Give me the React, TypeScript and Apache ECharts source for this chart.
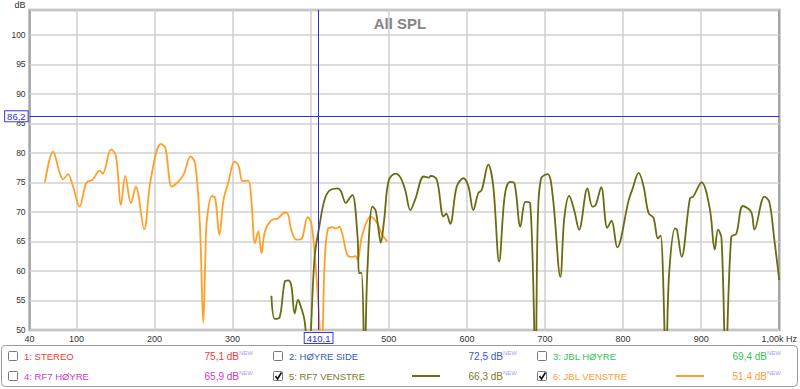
import React, { useEffect, useRef } from 'react';
import * as echarts from 'echarts';

// ---------- data ----------
const X_TICKS = [40, 100, 200, 300, 400, 500, 600, 700, 800, 900, 1000];
const X_GRID = [100, 200, 300, 400, 500, 600, 700, 800, 900];
const Y_MIN = 50;
const Y_MAX = 104.2;
const Y_STEP = 5;

const CURSOR_FREQ = 410.1;
const CURSOR_DB = 86.2;

// 6: JBL VENSTRE (orange)
const JBL_V_FREQ = [
  59.6, 70, 78.6, 83, 89, 95.6, 104, 112.6, 121, 129.5, 133.7, 144.3, 150.7, 157, 162.5, 169.8, 176,
  186.7, 195, 208, 214, 222, 229, 237.5, 246, 252, 258, 262.5, 265, 267, 273.5, 277.8, 283, 288.3,
  294.7, 302.3, 307.4, 313, 320, 324, 328.6, 332.8, 337, 341.3, 349.7, 358, 366.7, 371, 375, 381.5,
  388, 396, 400.6, 405, 410, 414, 417.6, 421.8, 428, 432, 436.6, 440.8, 447, 453.5, 457.8, 460, 466,
  476.8, 485, 491.7, 498,
];
const JBL_V_DB = [
  75.0, 80.2, 76.6, 75.5, 76.4, 74.3, 70.9, 74.9, 75.5, 77.0, 76.5, 80.6, 79.4, 71.2, 76.1, 71.5, 74.3,
  67.1, 75.4, 81.5, 80.8, 74.3, 74.9, 76.4, 79.4, 78.2, 68, 51.2, 62, 68.6, 72.7, 72.3, 66.1, 72.0,
  75.1, 78.5, 77.9, 75.2, 75.3, 72, 64.7, 66.7, 63.0, 66.7, 68.6, 68.9, 69.9, 69.6, 67.0, 65.3,
  65.4, 69.1, 68.2, 63.0, 54, 45, 60.7, 67, 67.4, 67.2, 67.5, 66.1, 62.7, 62.4, 62.5, 61.9, 66.1,
  69.2, 68.1, 66.1, 65.0,
];

// 5: RF7 VENSTRE (olive)
const RF7_V_FREQ = [
  349.7, 354, 360, 366.7, 371, 375, 379.5, 383.7, 386, 392, 397, 405, 411, 417.6, 424, 434.5, 438.7,
  445, 449.5, 453.5, 460, 462, 465, 469, 472.6, 479, 483, 487.5, 489.7, 494, 500, 508.9, 515, 521,
  527.6, 534, 544.7, 551, 554, 561.6, 570, 573.5, 578.6, 587, 595.6, 602, 608.2, 614.6, 619, 627.4,
  633.8, 641.3, 648.5, 655, 661, 668.5, 674.9, 681, 687.8, 690.8, 695, 703.5, 710, 719.7, 724.7, 731,
  737.4, 743.7, 754.4, 760.7, 765, 772, 779.8, 785.3, 792.5, 807.2, 811.6, 820, 826.3, 832.6, 839,
  844.6, 848, 855, 859, 866.6, 869, 875, 885.6, 889.8, 900.5, 911, 917.4, 921.6, 926, 931.5, 938.6,
  945, 953.4, 964, 968.3, 981, 987.3, 993.7, 1000,
];
const RF7_V_DB = [
  55.8, 51.9, 52.1, 58.2, 58.4, 57.6, 52.8, 55.1, 54.5, 51.7, 45, 62.4, 67.5, 72.0, 73.6, 74.0, 73.5,
  71.5, 72.3, 72.9, 65.8, 59.6, 59.7, 45, 60.2, 70.9, 70.3, 66.4, 64.8, 68.6, 75.4, 76.5, 75.8, 73.7,
  70.3, 72.2, 76.0, 75.8, 76.1, 75.4, 69.2, 69.7, 68.0, 74.3, 75.7, 74.3, 70.3, 73.2, 73.7, 78.0,
  74.3, 61.6, 72.8, 75.1, 74.8, 67.5, 71.7, 71.5, 45, 68.6, 75.7, 76.4, 72.6, 59.0, 68.9, 72.7,
  70.3, 67.0, 74.0, 70.9, 71.2, 74.2, 67.3, 68.5, 64.0, 72.0, 73.7, 76.6, 74.3, 69.8, 69.0,
  65.5, 66, 45, 59.6, 67.2, 67, 62.4, 72.3, 72.6, 75.0, 70.6, 63.6, 67.0, 65.6, 45, 65.8,
  66.3, 71.0, 70.0, 67.0, 72.6, 71.7, 65.3, 58.5,
];

const LEGEND_LABELS = ['1: STEREO', '2: HØYRE SIDE', '3: JBL HØYRE', '4: RF7 HØYRE', '5: RF7 VENSTRE', '6: JBL VENSTRE'];
const LEGEND_VALUES = ['75,1 dB', '72,5 dB', '69,4 dB', '65,9 dB', '66,3 dB', '51,4 dB'];
const LEGEND_COLORS = ['#f03a3a', '#3458c8', '#35c45a', '#c83ac8', '#7a7a2e', '#ffa030'];
const LEGEND_CHECKED = [false, false, false, false, true, true];

const OLIVE = '#6b6b12';
const ORANGE = '#ffa028';
const FONT = 'Liberation Sans, Arial, sans-serif';

function pairs(xs: number[], ys: number[]) {
  return xs.map((x, i) => [x, ys[i]]);
}

function buildLegend(): any[] {
  const els: any[] = [];
  els.push({
    type: 'rect',
    shape: { x: 1.5, y: 345.5, width: 796, height: 41, r: 4 },
    style: { fill: '#fff', stroke: '#9a9a9a', lineWidth: 1 },
    silent: true,
  });
  const colX = [8, 273, 537];
  const valRight = [253, 517, 781];
  const rowY = [356, 376];
  const lineColors = [null, null, null, null, OLIVE, ORANGE];
  LEGEND_LABELS.forEach((label, i) => {
    const col = i % 3;
    const row = Math.floor(i / 3);
    const cx = colX[col];
    const cy = rowY[row];
    els.push({
      type: 'rect',
      shape: { x: cx + 0.5, y: cy - 4.5, width: 9, height: 9, r: 1 },
      style: { fill: '#fff', stroke: '#7a7a7a', lineWidth: 1 },
      silent: true,
    });
    if (LEGEND_CHECKED[i]) {
      els.push({
        type: 'polyline',
        shape: { points: [[cx + 2.5, cy], [cx + 4.5, cy + 3], [cx + 8.5, cy - 3.5]] },
        style: { stroke: '#111', lineWidth: 1.6, fill: 'none' },
        silent: true,
      });
    }
    els.push({
      type: 'text',
      x: cx + 16,
      y: cy,
      style: {
        text: label,
        fill: LEGEND_COLORS[i],
        font: `9.5px ${FONT}`,
        verticalAlign: 'middle',
        align: 'left',
      },
      silent: true,
    });
    const lc = lineColors[i];
    if (lc) {
      els.push({
        type: 'line',
        shape: { x1: valRight[col] - 105, y1: cy, x2: valRight[col] - 77, y2: cy },
        style: { stroke: lc, lineWidth: 2 },
        silent: true,
      });
    }
    els.push({
      type: 'text',
      x: valRight[col],
      y: cy,
      style: {
        text: `{v|${LEGEND_VALUES[i]}}{n|NEW}`,
        align: 'right',
        verticalAlign: 'middle',
        rich: {
          v: { fill: LEGEND_COLORS[i], fontSize: 10, fontFamily: FONT, lineHeight: 12 },
          n: { fill: '#9f9ff5', fontSize: 6, fontFamily: FONT, verticalAlign: 'top', lineHeight: 12, padding: [0, 0, 4, 0] },
        },
      },
      silent: true,
    });
  });
  return els;
}

export default function App() {
  const ref = useRef<HTMLDivElement>(null);
  useEffect(() => {
    if (!ref.current) return;
    const chart = echarts.init(ref.current, undefined, { renderer: 'svg' });
    const cursorLabel = {
      show: true,
      position: 'start',
      color: '#2a2ad0',
      fontSize: 9.5,
      fontFamily: FONT,
      backgroundColor: '#fff',
      borderColor: '#3a3ae0',
      borderWidth: 1,
      padding: [0, 2, 0, 2],
    };
    chart.setOption({
      animation: false,
      textStyle: { fontFamily: FONT },
      title: {
        text: 'All SPL',
        left: 'center',
        top: 11,
        textStyle: { fontSize: 15, fontWeight: 'bold', color: '#858585', fontFamily: FONT },
      },
      grid: {
        left: 29.6,
        right: 14,
        top: 10,
        bottom: 59,
        show: true,
        borderColor: '#a4a4a4',
        borderWidth: 2.5,
        backgroundColor: '#fff',
      },
      xAxis: {
        type: 'value',
        min: 40,
        max: 1000,
        axisLine: { show: false },
        axisTick: { show: false },
        splitLine: { show: false },
        axisLabel: {
          customValues: X_TICKS,
          hideOverlap: false,
          color: '#333',
          fontSize: 9,
          margin: 4,
          formatter: (v: number) => (v === 1000 ? '1,00k Hz' : v === 400 ? '' : String(v)),
        },
      },
      yAxis: {
        type: 'value',
        min: Y_MIN,
        max: Y_MAX,
        interval: Y_STEP,
        name: 'dB',
        nameLocation: 'end',
        nameGap: 1,
        nameTextStyle: { align: 'right', fontSize: 9, color: '#333', padding: [0, 4, 0, 0] },
        axisLine: { show: false },
        axisTick: { show: false },
        splitLine: { show: true, lineStyle: { color: '#d0d0d0', width: 1.5 } },
        axisLabel: {
          color: '#333',
          fontSize: 8.5,
          margin: 4,
          showMaxLabel: false,
          formatter: (v: number) => (Math.abs(v % 5) < 1e-6 && v <= 100 ? String(v) : ''),
        },
      },
      series: [
        {
          name: 'grid',
          type: 'line',
          data: [],
          silent: true,
          markLine: {
            silent: true,
            symbol: 'none',
            z: 1,
            label: { show: false },
            lineStyle: { color: '#d0d0d0', width: 1.5, type: 'solid' },
            data: X_GRID.map((v) => ({ xAxis: v })),
          },
        },
        {
          name: '6: JBL VENSTRE',
          type: 'line',
          data: pairs(JBL_V_FREQ, JBL_V_DB),
          showSymbol: false,
          smooth: 0.35,
          clip: true,
          z: 3,
          lineStyle: { color: ORANGE, width: 1.8 },
          itemStyle: { color: ORANGE },
        },
        {
          name: '5: RF7 VENSTRE',
          type: 'line',
          data: pairs(RF7_V_FREQ, RF7_V_DB),
          showSymbol: false,
          smooth: 0.35,
          clip: true,
          z: 4,
          lineStyle: { color: OLIVE, width: 1.8 },
          itemStyle: { color: OLIVE },
          markLine: {
            silent: true,
            symbol: 'none',
            z: 6,
            lineStyle: { color: '#3030d8', width: 1, type: 'solid' },
            data: [
              { yAxis: CURSOR_DB, label: { ...cursorLabel, distance: 2, formatter: String(CURSOR_DB).replace('.', ',') } },
              { xAxis: CURSOR_FREQ, label: { ...cursorLabel, distance: 3, formatter: String(CURSOR_FREQ).replace('.', ',') } },
            ],
          },
        },
      ],
      graphic: buildLegend(),
    });
    return () => chart.dispose();
  }, []);
  return (
    <div
      ref={ref}
      style={{ position: 'fixed', left: 0, top: 0, width: 800, height: 389, background: '#fff' }}
    />
  );
}
